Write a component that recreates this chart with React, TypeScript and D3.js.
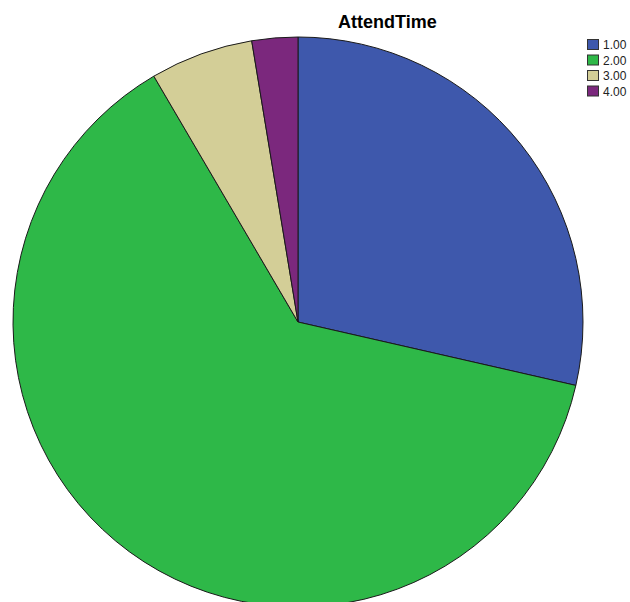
import React from "react";
import * as d3 from "d3";

const categories = ["1.00", "2.00", "3.00", "4.00"];
const counts = [44, 97, 9, 4];
const colors = ["#3E58AC", "#2EB848", "#D3CE97", "#7B287D"];
const title = "AttendTime";

const W = 630;
const H = 602;

export default function App() {
  const cx = 298;
  const cy = 322;
  const r = 285;

  const data = categories.map((c, i) => ({ c, v: counts[i], color: colors[i] }));
  const pie = d3.pie<any>().value((d) => d.v).sort(null);
  const arcs = pie(data);
  const arc = d3.arc<any>().innerRadius(0).outerRadius(r);

  const legendY = d3.scaleBand().domain(categories).range([39, 101]).paddingInner(0);

  return (
    <svg
      width={W}
      height={H}
      style={{ position: "absolute", left: 0, top: 0, background: "#fff" }}
      fontFamily="Arial, 'Liberation Sans', sans-serif"
    >
      <text x={338} y={28} textAnchor="start" fontSize={18} fontWeight="bold" fill="#000">
        {title}
      </text>
      <g transform={`translate(${cx},${cy})`}>
        {arcs.map((a, i) => (
          <path key={i} d={arc(a) as string} fill={a.data.color} stroke="#1a1a1a" strokeWidth={1} />
        ))}
      </g>
      <g>
        {categories.map((c, i) => {
          const y = legendY(c) as number;
          return (
            <g key={c}>
              <rect x={587.5} y={y + 0.5} width={11} height={10} fill={colors[i]} stroke="#333" strokeWidth={1} />
              <text x={603} y={y + 10} fontSize={12} fill="#222">
                {c}
              </text>
            </g>
          );
        })}
      </g>
    </svg>
  );
}
